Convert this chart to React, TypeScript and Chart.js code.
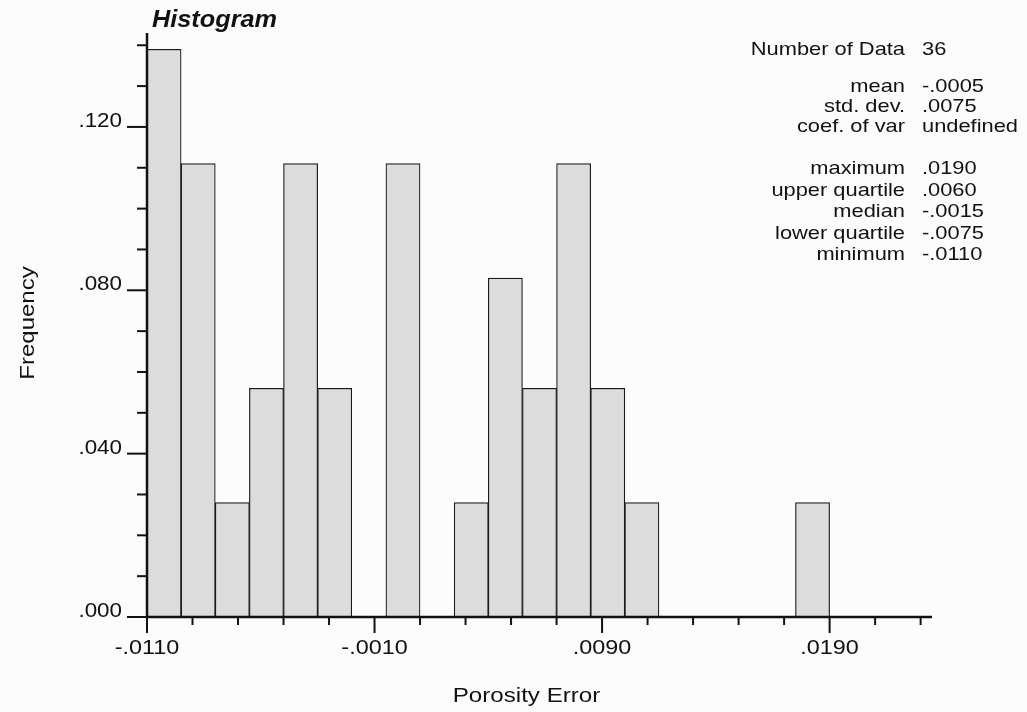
import React, { useEffect, useRef } from "react";
import { Chart, registerables } from "chart.js";

Chart.register(...registerables);

// ---- data ----
const binLower = [
  -0.011, -0.0095, -0.008, -0.0065, -0.005, -0.0035, -0.002, -0.0005, 0.001, 0.0025,
  0.004, 0.0055, 0.007, 0.0085, 0.01, 0.0115, 0.013, 0.0145, 0.016, 0.0175,
];
const binWidth = 0.0015;
const frequency = [
  0.139, 0.111, 0.028, 0.056, 0.111, 0.056, 0, 0.111, 0, 0.028,
  0.083, 0.056, 0.111, 0.056, 0.028, 0, 0, 0, 0, 0.028,
];
const xTicks = [
  -0.011, -0.009, -0.007, -0.005, -0.003, -0.001, 0.001, 0.003, 0.005, 0.007,
  0.009, 0.011, 0.013, 0.015, 0.017, 0.019, 0.021, 0.023,
];
const xLabelTicks = [-0.011, -0.001, 0.009, 0.019];
const yTicks = [0, 0.01, 0.02, 0.03, 0.04, 0.05, 0.06, 0.07, 0.08, 0.09, 0.1, 0.11, 0.12, 0.13, 0.14];
const yLabelTicks = [0, 0.04, 0.08, 0.12];
const statLabels = [
  "Number of Data", "mean", "std. dev.", "coef. of var",
  "maximum", "upper quartile", "median", "lower quartile", "minimum",
];
const statValues = ["36", "-.0005", ".0075", "undefined", ".0190", ".0060", "-.0015", "-.0075", "-.0110"];
const statBaselines = [55, 92, 112, 132, 174, 196, 217, 239, 260];

const FONT = '"Liberation Sans", Arial, Helvetica, sans-serif';

function fmt(v: number, digits: number) {
  const s = v.toFixed(digits);
  return s.replace(/^(-?)0\./, "$1.");
}

function stretchText(
  ctx: CanvasRenderingContext2D,
  s: string,
  x: number,
  y: number,
  align: "left" | "right" | "center",
  font: string,
  sx: number
) {
  ctx.save();
  ctx.font = font;
  ctx.textBaseline = "alphabetic";
  ctx.textAlign = "left";
  const w = ctx.measureText(s).width * sx;
  const left = align === "right" ? x - w : align === "center" ? x - w / 2 : x;
  ctx.translate(left, y);
  ctx.scale(sx, 1);
  ctx.fillText(s, 0, 0);
  ctx.restore();
}

const decorPlugin = {
  id: "decor",
  beforeDraw(chart: any) {
    const ctx = chart.ctx as CanvasRenderingContext2D;
    ctx.save();
    ctx.fillStyle = "#fcfcfc";
    ctx.fillRect(0, 0, chart.width, chart.height);
    ctx.restore();
  },
  afterDatasetsDraw(chart: any) {
    const ctx = chart.ctx as CanvasRenderingContext2D;
    const xs = chart.scales.x;
    const ys = chart.scales.y;
    const area = chart.chartArea;
    const y0 = ys.getPixelForValue(0);
    const x0 = xs.getPixelForValue(xs.min);
    ctx.save();
    ctx.strokeStyle = "#111";
    ctx.fillStyle = "#111";
    ctx.lineCap = "butt";

    // axis lines
    ctx.lineWidth = 2.5;
    ctx.beginPath();
    ctx.moveTo(x0, area.top);
    ctx.lineTo(x0, y0 + 1.25);
    ctx.moveTo(x0 - 1.25, y0);
    ctx.lineTo(area.right, y0);
    ctx.stroke();

    // y ticks
    ctx.lineWidth = 2;
    yTicks.forEach((v) => {
      const py = ys.getPixelForValue(v);
      const major = yLabelTicks.some((m) => Math.abs(m - v) < 1e-9);
      ctx.beginPath();
      ctx.moveTo(x0 - (major ? 20 : 10), py);
      ctx.lineTo(x0, py);
      ctx.stroke();
      if (major) {
        stretchText(ctx, fmt(v, 3), x0 - 25, py, "right", `20px ${FONT}`, 1.12);
      }
    });

    // x ticks
    xTicks.forEach((v) => {
      const px = xs.getPixelForValue(v);
      const major = xLabelTicks.some((m) => Math.abs(m - v) < 1e-9);
      ctx.beginPath();
      ctx.moveTo(px, y0);
      ctx.lineTo(px, y0 + (major ? 16 : 8));
      ctx.stroke();
      if (major) {
        stretchText(ctx, fmt(v, 4), px, y0 + 37, "center", `20px ${FONT}`, 1.17);
      }
    });

    // titles
    stretchText(ctx, "Histogram", 152, 27, "left", `italic bold 23px ${FONT}`, 1.1);
    stretchText(ctx, "Porosity Error", (area.left + area.right) / 2 - 13, 702, "center", `21px ${FONT}`, 1.15);

    ctx.save();
    ctx.translate(34, 323);
    ctx.rotate(-Math.PI / 2);
    stretchText(ctx, "Frequency", 0, 0, "center", `20px ${FONT}`, 1.2);
    ctx.restore();

    // statistics block
    statLabels.forEach((lab, i) => {
      stretchText(ctx, lab, 905, statBaselines[i], "right", `19px ${FONT}`, 1.15);
      stretchText(ctx, statValues[i], 922, statBaselines[i], "left", `19px ${FONT}`, 1.15);
    });

    ctx.restore();
  },
};

export default function App() {
  const canvasRef = useRef<HTMLCanvasElement | null>(null);

  useEffect(() => {
    document.body.style.margin = "0";
    const canvas = canvasRef.current;
    if (!canvas) return;
    const chart = new Chart(canvas, {
      type: "bar",
      data: {
        datasets: [
          {
            data: binLower.map((lo, i) => ({ x: lo + binWidth / 2, y: frequency[i] })),
            backgroundColor: "#dcdcdc",
            borderColor: "#1a1a1a",
            borderWidth: 1.2,
            borderSkipped: false,
            barPercentage: 1,
            categoryPercentage: 1,
          },
        ],
      },
      options: {
        responsive: false,
        animation: false,
        events: [],
        layout: { padding: { left: 147, right: 95, top: 33, bottom: 95 } },
        scales: {
          x: {
            type: "linear",
            min: -0.011,
            max: 0.0235,
            offset: false,
            display: false,
          },
          y: {
            type: "linear",
            min: 0,
            max: 0.143,
            display: false,
          },
        },
        plugins: {
          legend: { display: false },
          tooltip: { enabled: false },
          title: { display: false },
        },
      },
      plugins: [decorPlugin],
    });
    return () => chart.destroy();
  }, []);

  return (
    <div style={{ width: 1027, height: 712 }}>
      <canvas ref={canvasRef} width={1027} height={712} style={{ display: "block" }} />
    </div>
  );
}
